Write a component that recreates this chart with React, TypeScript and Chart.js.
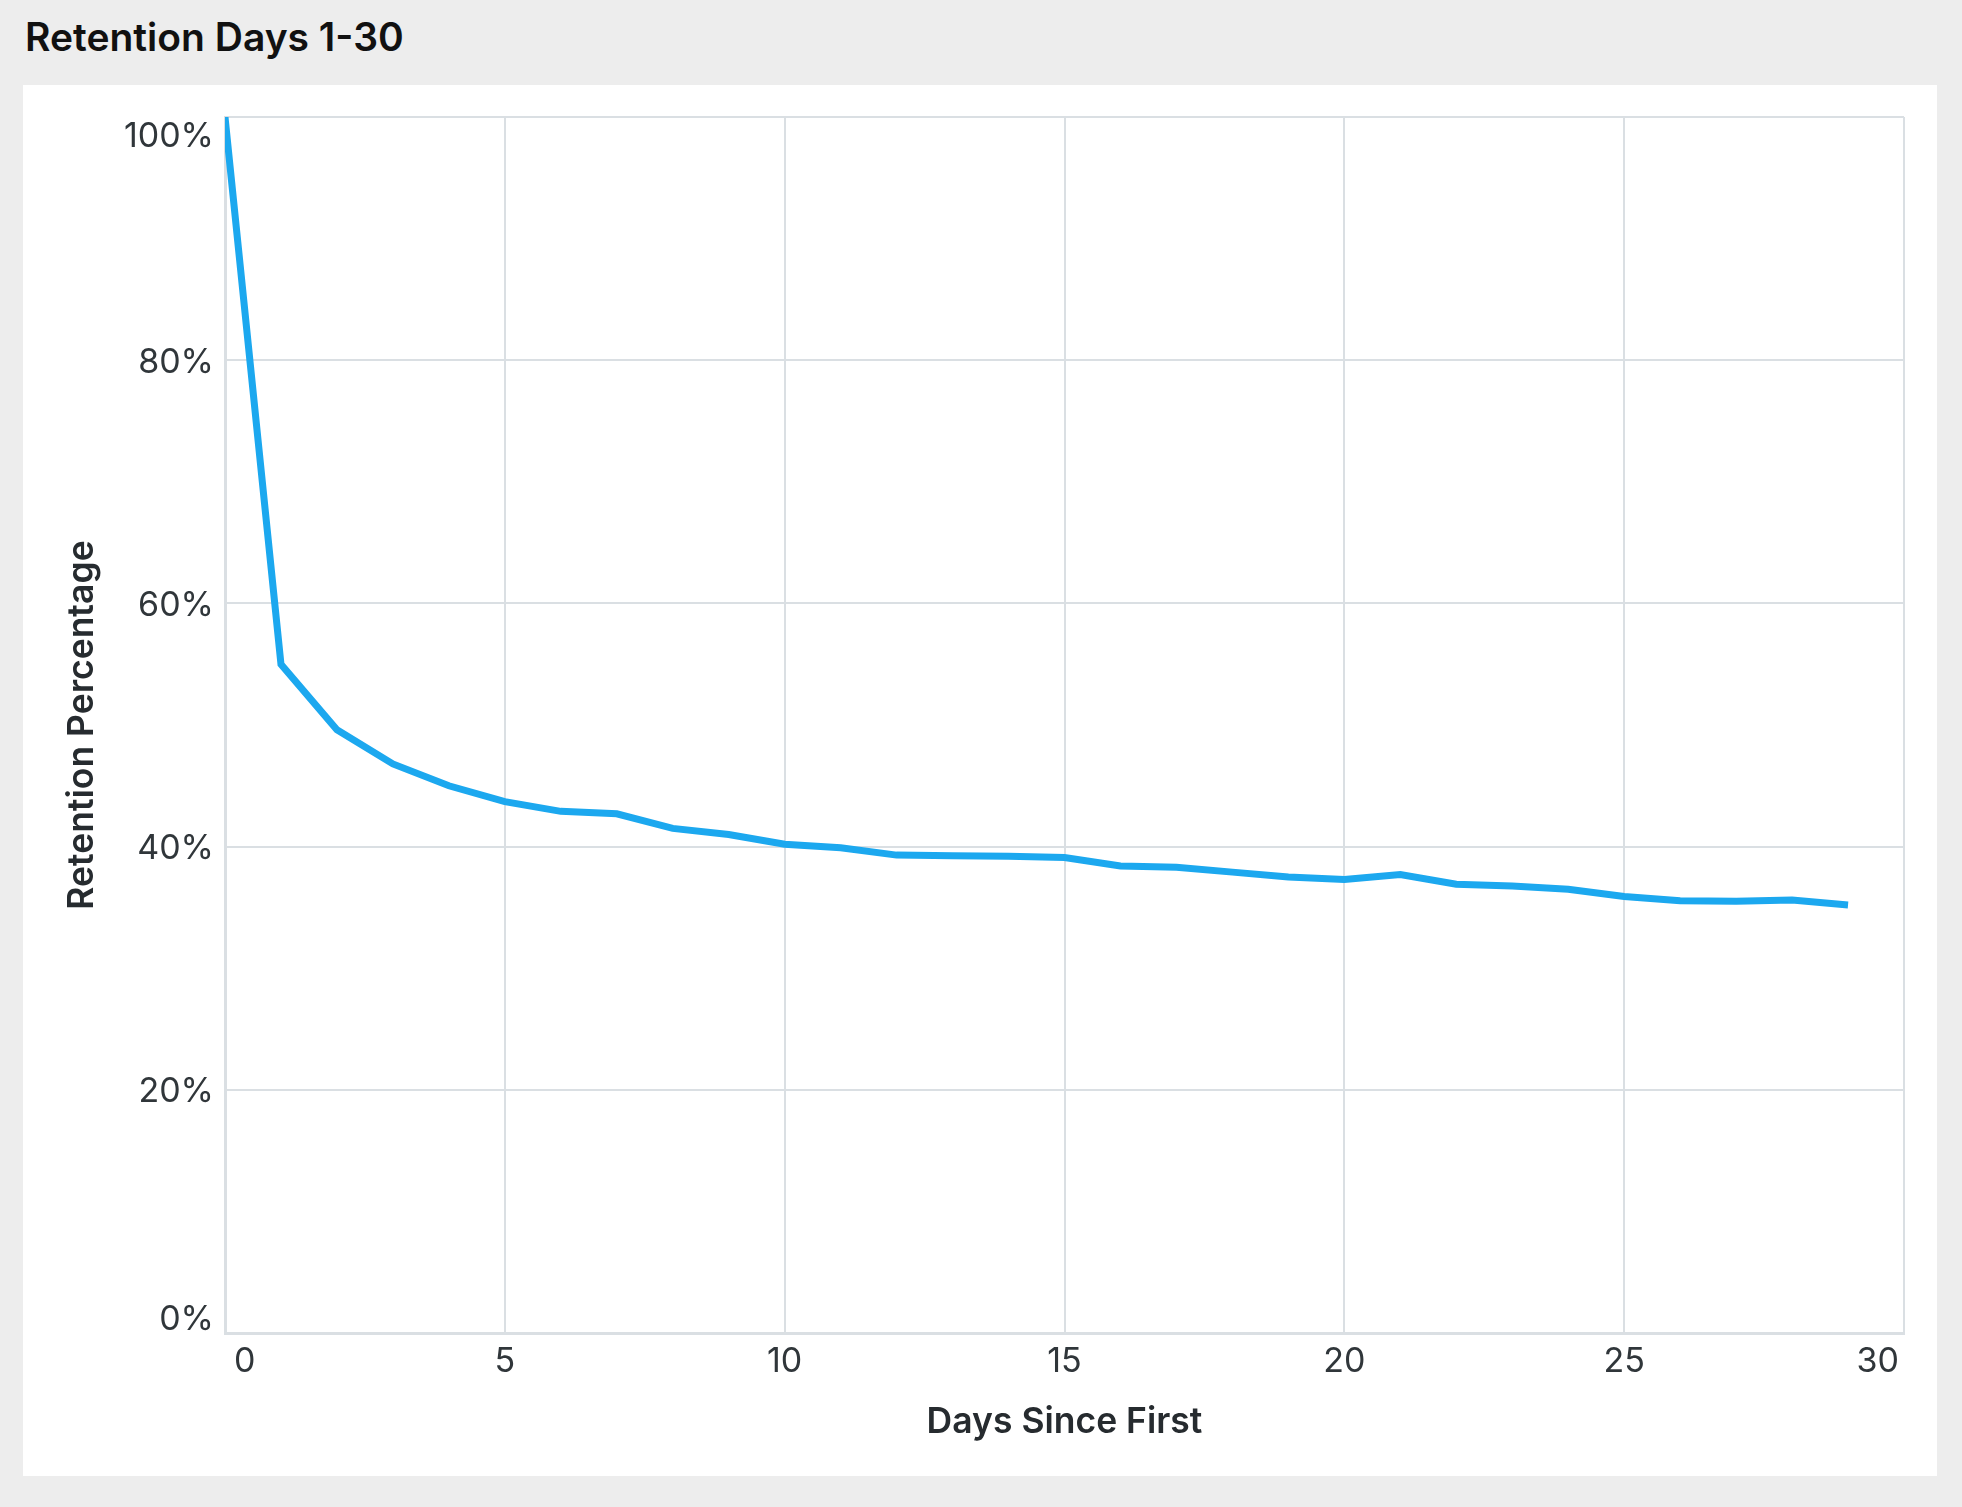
import React, { useEffect, useRef } from "react";
import { Chart, registerables } from "chart.js";

Chart.register(...registerables);

const chartTitle = "Retention Days 1-30";
const xAxisTitle = "Days Since First";
const yAxisTitle = "Retention Percentage";

const days = [0, 1, 2, 3, 4, 5, 6, 7, 8, 9, 10, 11, 12, 13, 14, 15, 16, 17, 18, 19, 20, 21, 22, 23, 24, 25, 26, 27, 28, 29];
const retention = [100, 55.0, 49.6, 46.8, 45.0, 43.7, 42.9, 42.7, 41.5, 41.0, 40.2, 39.9, 39.3, 39.25, 39.2, 39.1, 38.4, 38.3, 37.9, 37.5, 37.3, 37.7, 36.9, 36.75, 36.5, 35.9, 35.55, 35.5, 35.6, 35.2];

const xTicks = [0, 5, 10, 15, 20, 25, 30];
const yTicks = [0, 20, 40, 60, 80, 100];

const LINE_COLOR = "#1ca8ef";
const GRID_COLOR = "#dadfe3";
const TICK_COLOR = "#30363a";
const AXIS_TITLE_COLOR = "#262b2f";
const FONT = "Inter";

const labelPlugin = {
  id: "customLabels",
  afterDraw(chart: any) {
    const ctx = chart.ctx as CanvasRenderingContext2D;
    const xs = chart.scales.x;
    const ys = chart.scales.y;
    const area = chart.chartArea;
    ctx.save();
    ctx.fillStyle = TICK_COLOR;
    ctx.font = `400 34px ${FONT}`;
    ctx.textBaseline = "alphabetic";
    // y tick labels (flush at ends)
    ctx.textAlign = "right";
    yTicks.forEach((v, i) => {
      const p = ys.getPixelForValue(v);
      let b = p + 12.5;
      if (i === 0) b = p - 3;
      else if (i === yTicks.length - 1) b = p + 30;
      ctx.fillText(v + "%", area.left - 11, b);
    });
    // x tick labels (flush at ends)
    xTicks.forEach((v, i) => {
      const p = xs.getPixelForValue(v);
      let x = p;
      if (i === 0) {
        ctx.textAlign = "left";
        x = p + 9;
      } else if (i === xTicks.length - 1) {
        ctx.textAlign = "right";
        x = p - 5;
      } else {
        ctx.textAlign = "center";
      }
      ctx.fillText(String(v), x, area.bottom + 39);
    });
    // axis titles
    ctx.fillStyle = AXIS_TITLE_COLOR;
    ctx.font = `600 35.5px ${FONT}`;
    ctx.textAlign = "center";
    ctx.fillText(xAxisTitle, (area.left + area.right) / 2, area.bottom + 100);
    ctx.translate(93, (area.top + area.bottom) / 2);
    ctx.rotate(-Math.PI / 2);
    ctx.fillText(yAxisTitle, 0, 0);
    ctx.restore();
  },
};

function RetentionChart() {
  const ref = useRef<HTMLCanvasElement | null>(null);
  useEffect(() => {
    const canvas = ref.current;
    if (!canvas) return;
    const chart = new Chart(canvas, {
      type: "line",
      data: {
        datasets: [
          {
            label: "Retention",
            data: days.map((d, i) => ({ x: d, y: retention[i] })),
            borderColor: LINE_COLOR,
            backgroundColor: LINE_COLOR,
            borderWidth: 7,
            pointRadius: 0,
            pointHoverRadius: 0,
            tension: 0,
            fill: false,
            borderCapStyle: "butt",
            borderJoinStyle: "miter",
          },
        ],
      },
      options: {
        animation: false,
        responsive: false,
        maintainAspectRatio: false,
        devicePixelRatio: 1,
        layout: { padding: { left: 0, top: 117, right: 58, bottom: 0 } },
        plugins: { legend: { display: false }, tooltip: { enabled: false }, title: { display: false } },
        scales: {
          x: {
            type: "linear",
            min: 0,
            max: 30,
            afterBuildTicks: (scale: any) => {
              scale.ticks = xTicks.map((v) => ({ value: v }));
            },
            ticks: { display: false },
            grid: { color: GRID_COLOR, lineWidth: 2, drawTicks: false },
            border: { display: true, color: GRID_COLOR, width: 3 },
            afterFit: (scale: any) => {
              scale.height = 1507 - 1333;
            },
          },
          y: {
            type: "linear",
            min: 0,
            max: 100,
            afterBuildTicks: (scale: any) => {
              scale.ticks = yTicks.map((v) => ({ value: v }));
            },
            ticks: { display: false },
            grid: { color: GRID_COLOR, lineWidth: 2, drawTicks: false },
            border: { display: true, color: GRID_COLOR, width: 3 },
            afterFit: (scale: any) => {
              scale.width = 225;
            },
          },
        },
      },
      plugins: [labelPlugin],
    });
    return () => chart.destroy();
  }, []);
  return (
    <canvas
      ref={ref}
      width={1962}
      height={1507}
      style={{ position: "absolute", left: 0, top: 0, width: 1962, height: 1507, display: "block" }}
    />
  );
}

export default function App() {
  useEffect(() => {
    document.body.style.margin = "0";
  }, []);
  return (
    <div style={{ position: "relative", width: 1962, height: 1507, background: "#ededed", overflow: "hidden" }}>
      <div
        style={{
          position: "absolute",
          left: 25,
          top: 17,
          fontFamily: FONT,
          fontWeight: 600,
          fontSize: 39,
          lineHeight: "39px",
          color: "#111",
          whiteSpace: "nowrap",
        }}
      >
        {chartTitle}
      </div>
      <div style={{ position: "absolute", left: 23, top: 85, width: 1914, height: 1391, background: "#fff" }} />
      <RetentionChart />
    </div>
  );
}
